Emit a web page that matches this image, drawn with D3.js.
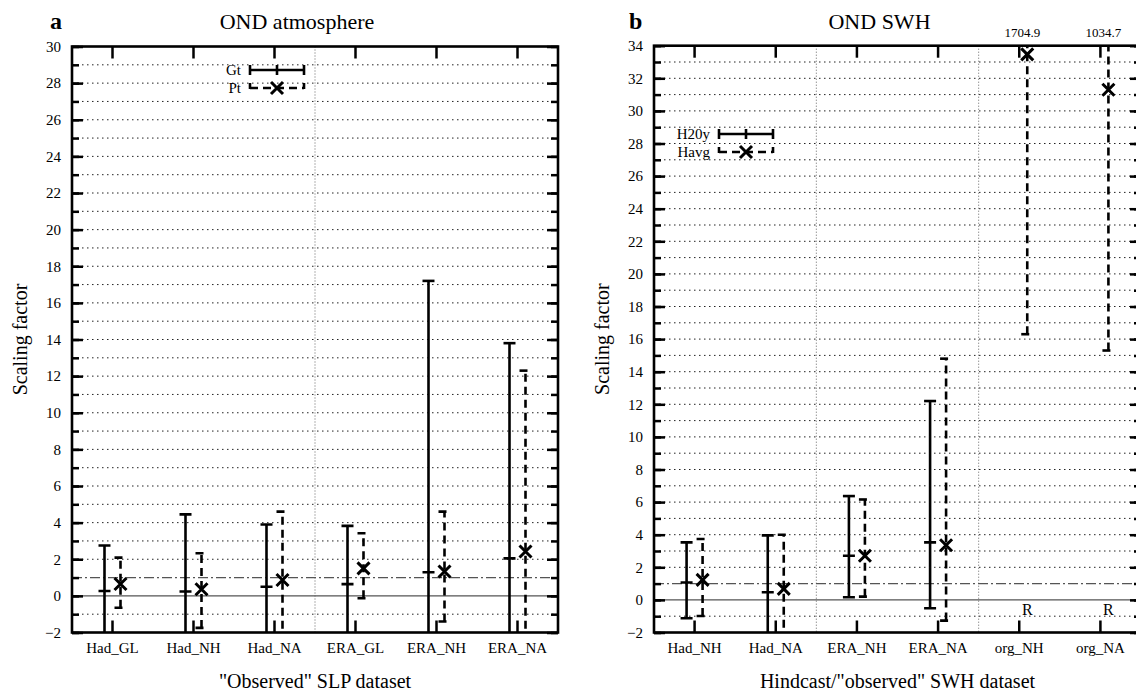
<!DOCTYPE html>
<html>
<head>
<meta charset="utf-8">
<script src="https://cdn.jsdelivr.net/npm/d3@7"></script>
<style>
body { margin: 0; background: #fff; }
text { font-family: "Liberation Serif", "Times New Roman", serif; fill: #000; }
</style>
</head>
<body>
<div id="chart"></div>
<script>
// panel a - "observed" SLP datasets, Gt (solid) and Pt (dashed)
var catsA = ["Had_GL", "Had_NH", "Had_NA", "ERA_GL", "ERA_NH", "ERA_NA"];
var gtLowA = [-2.5, -2.5, -2.5, -2.5, -2.5, -2.5];
var gtMidA = [0.27, 0.24, 0.5, 0.64, 1.29, 2.05];
var gtHighA = [2.75, 4.45, 3.9, 3.82, 17.2, 13.8];
var ptLowA = [-0.65, -1.75, -2.5, -0.13, -1.4, -2.5];
var ptMidA = [0.65, 0.36, 0.87, 1.5, 1.33, 2.42];
var ptHighA = [2.09, 2.33, 4.6, 3.42, 4.6, 12.3];

// panel b - hindcast / observed SWH, H20y (solid) and Havg (dashed)
var catsB = ["Had_NH", "Had_NA", "ERA_NH", "ERA_NA", "org_NH", "org_NA"];
var h20yLow = [-1.13, -2.5, 0.16, -0.51, null, null];
var h20yMid = [1.07, 0.47, 2.71, 3.53, null, null];
var h20yHigh = [3.53, 3.96, 6.37, 12.2, null, null];
var havgLow = [-0.99, -2.5, 0.2, -1.27, 16.3, 15.3];
var havgMid = [1.23, 0.68, 2.71, 3.35, 33.47, 31.3];
var havgHigh = [3.74, 4.0, 6.16, 14.8, 1704.9, 1034.7];

var svg = d3.select("#chart").append("svg")
    .attr("width", 1136)
    .attr("height", 694)
    .attr("font-family", "Liberation Serif, Times New Roman, serif");

var DASH = "8,5";

function drawPanel(p) {
    var x = d3.scaleBand().domain(p.cats).range([p.left, p.right]);
    var y = d3.scaleLinear().domain([p.ymin, p.ymax]).range([p.bottom, p.top]);
    var cx = function(i) { return x(p.cats[i]) + x.bandwidth() / 2; };
    var g = svg.append("g");

    svg.append("clipPath").attr("id", "clip" + p.id)
        .append("rect")
        .attr("x", p.left).attr("y", p.top)
        .attr("width", p.right - p.left).attr("height", p.bottom - p.top);

    // dotted grid
    var grid = d3.range(p.ymin + 1, p.ymax).filter(function(v) { return v != 0 && v != 1; });
    g.selectAll(".grid").data(grid).enter().append("line")
        .attr("x1", p.left).attr("x2", p.right)
        .attr("y1", function(d) { return y(d); }).attr("y2", function(d) { return y(d); })
        .attr("stroke", "#222").attr("stroke-width", 1).attr("stroke-dasharray", "1.5,3.5");

    // dataset separators
    p.seps.forEach(function(s) {
        var sx = x(p.cats[s]);
        g.append("line")
            .attr("x1", sx).attr("x2", sx).attr("y1", p.top).attr("y2", p.bottom)
            .attr("stroke", "#666").attr("stroke-width", 1).attr("stroke-dasharray", "1,2");
    });

    // zero line and the 1 line
    g.append("line")
        .attr("x1", p.left).attr("x2", p.right).attr("y1", y(0)).attr("y2", y(0))
        .attr("stroke", "#555").attr("stroke-width", 1.2);
    g.append("line")
        .attr("x1", p.left).attr("x2", p.right).attr("y1", y(1)).attr("y2", y(1))
        .attr("stroke", "#555").attr("stroke-width", 1.2).attr("stroke-dasharray", "10,3,2,3");

    // axes, ticks pointing inwards
    var minor = d3.range(p.ymin, p.ymax + 1);
    var major = d3.range(p.ymin, p.ymax + 1, 2);
    var axL1 = g.append("g").attr("transform", "translate(" + p.left + ",0)")
        .call(d3.axisLeft(y).tickValues(minor).tickSize(-7).tickFormat(""));
    var axL2 = g.append("g").attr("transform", "translate(" + p.left + ",0)")
        .call(d3.axisLeft(y).tickValues(major).tickSize(-11).tickPadding(11).tickFormat(d3.format("d")));
    var axR1 = g.append("g").attr("transform", "translate(" + p.right + ",0)")
        .call(d3.axisRight(y).tickValues(minor).tickSize(-7).tickFormat(""));
    var axR2 = g.append("g").attr("transform", "translate(" + p.right + ",0)")
        .call(d3.axisRight(y).tickValues(major).tickSize(-11).tickFormat(""));
    var axB = g.append("g").attr("transform", "translate(0," + p.bottom + ")")
        .call(d3.axisBottom(x).tickSize(-12).tickPadding(10));
    var axT = g.append("g").attr("transform", "translate(0," + p.top + ")")
        .call(d3.axisTop(x).tickSize(-12).tickFormat(""));
    [axL1, axL2, axR1, axR2, axB, axT].forEach(function(a) {
        a.attr("font-family", null);
        a.select(".domain").remove();
        a.selectAll(".tick line").attr("stroke", "#000").attr("stroke-width", 2.5);
        a.selectAll("text").style("font-size", "15px").attr("fill", "#000");
    });

    g.append("rect")
        .attr("x", p.left).attr("y", p.top)
        .attr("width", p.right - p.left).attr("height", p.bottom - p.top)
        .attr("fill", "none").attr("stroke", "#000").attr("stroke-width", 2.6);

    // error bars
    var bars = g.append("g").attr("clip-path", "url(#clip" + p.id + ")");
    p.cats.forEach(function(c, i) {
        var lo = p.aLow[i], mid = p.aMid[i], hi = p.aHigh[i];
        var xa = cx(i) - 8;
        if (mid != null) {
            bars.append("line").attr("x1", xa).attr("x2", xa).attr("y1", y(lo)).attr("y2", y(hi))
                .attr("stroke", "#000").attr("stroke-width", 2.6);
            [lo, hi, mid].forEach(function(v) {
                bars.append("line").attr("x1", xa - 6).attr("x2", xa + 6).attr("y1", y(v)).attr("y2", y(v))
                    .attr("stroke", "#000").attr("stroke-width", 2.6);
            });
        } else {
            g.append("text").attr("x", cx(i) + 8).attr("y", y(0) + 15)
                .attr("text-anchor", "middle").style("font-size", "16px").text("R");
        }

        var xb = cx(i) + 8;
        var lo2 = p.bLow[i], mid2 = p.bMid[i], hi2 = p.bHigh[i];
        bars.append("line").attr("x1", xb).attr("x2", xb).attr("y1", y(lo2)).attr("y2", y(hi2))
            .attr("stroke", "#000").attr("stroke-width", 2.6).attr("stroke-dasharray", DASH);
        [lo2, hi2].forEach(function(v) {
            bars.append("line").attr("x1", xb - 6).attr("x2", xb + 6).attr("y1", y(v)).attr("y2", y(v))
                .attr("stroke", "#000").attr("stroke-width", 2.6).attr("stroke-dasharray", DASH);
        });
        var m = y(mid2);
        bars.append("path")
            .attr("d", "M" + (xb - 6) + "," + (m - 6) + "L" + (xb + 6) + "," + (m + 6) +
                "M" + (xb - 6) + "," + (m + 6) + "L" + (xb + 6) + "," + (m - 6))
            .attr("stroke", "#000").attr("stroke-width", 3);

        // off-scale upper bounds are written above the frame
        if (hi2 > p.ymax) {
            g.append("text").attr("x", cx(i) + 3).attr("y", p.top - 9)
                .attr("text-anchor", "middle").style("font-size", "13px").text(hi2);
        }
    });

    // legend
    var L = p.legend;
    [0, 1].forEach(function(k) {
        var ly = L.y + k * 18;
        var dash = k == 0 ? null : DASH;
        g.append("text").attr("x", L.x - 9).attr("y", ly).attr("dy", "0.35em")
            .attr("text-anchor", "end").style("font-size", "15px").text(L.names[k]);
        g.append("line").attr("x1", L.x).attr("x2", L.x + 54).attr("y1", ly).attr("y2", ly)
            .attr("stroke", "#000").attr("stroke-width", 2.6).attr("stroke-dasharray", dash);
        [L.x, L.x + 54].forEach(function(ex) {
            g.append("line").attr("x1", ex).attr("x2", ex).attr("y1", ly - 5).attr("y2", ly + 5)
                .attr("stroke", "#000").attr("stroke-width", 2.6).attr("stroke-dasharray", k == 0 ? null : "6,4");
        });
        var mx = L.x + 27;
        if (k == 0) {
            g.append("line").attr("x1", mx).attr("x2", mx).attr("y1", ly - 5).attr("y2", ly + 5)
                .attr("stroke", "#000").attr("stroke-width", 2.6);
        } else {
            g.append("path")
                .attr("d", "M" + (mx - 6) + "," + (ly - 6) + "L" + (mx + 6) + "," + (ly + 6) +
                    "M" + (mx - 6) + "," + (ly + 6) + "L" + (mx + 6) + "," + (ly - 6))
                .attr("stroke", "#000").attr("stroke-width", 3);
        }
    });

    // titles
    svg.append("text").attr("x", p.letterX).attr("y", 29)
        .style("font-size", "24px").style("font-weight", "bold").text(p.letter);
    svg.append("text").attr("x", (p.left + p.right) / 2 - 18).attr("y", 29)
        .attr("text-anchor", "middle").style("font-size", "22px").text(p.title);
    svg.append("text")
        .attr("transform", "translate(" + (p.left - 52) + "," + ((p.top + p.bottom) / 2) + ") rotate(-90)")
        .attr("text-anchor", "middle").attr("dy", "0.35em").style("font-size", "20px").text("Scaling factor");
    svg.append("text").attr("x", (p.left + p.right) / 2).attr("y", 688)
        .attr("text-anchor", "middle").style("font-size", "20px").text(p.xTitle);
}

drawPanel({
    id: "a", cats: catsA, left: 72, right: 558, top: 46.5, bottom: 632.5, ymin: -2, ymax: 30,
    aLow: gtLowA, aMid: gtMidA, aHigh: gtHighA,
    bLow: ptLowA, bMid: ptMidA, bHigh: ptHighA,
    seps: [3],
    legend: { x: 250, y: 70, names: ["Gt", "Pt"] },
    letter: "a", letterX: 50, title: "OND atmosphere", xTitle: "\"Observed\" SLP dataset"
});

drawPanel({
    id: "b", cats: catsB, left: 654, right: 1141, top: 45.7, bottom: 632.5, ymin: -2, ymax: 34,
    aLow: h20yLow, aMid: h20yMid, aHigh: h20yHigh,
    bLow: havgLow, bMid: havgMid, bHigh: havgHigh,
    seps: [2, 4],
    legend: { x: 719, y: 134, names: ["H20y", "Havg"] },
    letter: "b", letterX: 629, title: "OND SWH", xTitle: "Hindcast/\"observed\" SWH dataset"
});
</script>
</body>
</html>
